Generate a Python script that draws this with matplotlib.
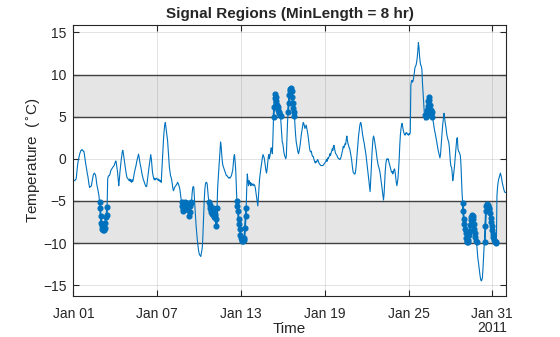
import numpy as np
import pandas as pd
import matplotlib
matplotlib.use('Agg')
import matplotlib.pyplot as plt
import matplotlib.dates as mdates

plt.rcParams['font.family'] = ['Liberation Sans', 'DejaVu Sans']

# hourly temperature readings (deg C), one list per day of January 2011
jan01 = [-2.6, -2.6, -2.6, -2.5, -2.5, -2.3, -1.6, -0.9, -0.4, 0.0, 0.3, 0.6, 0.8, 1.0, 1.0, 1.1, 1.0, 0.9, 0.9, 0.5, 0.0, -0.5, -0.9, -1.3]
jan02 = [-1.8, -2.1, -2.6, -3.1, -3.4, -3.3, -3.3, -3.2, -2.8, -2.4, -2.0, -1.8, -1.7, -1.8, -1.9, -2.3, -2.9, -3.3, -3.6, -4.0, -4.4, -5.1, -5.9, -6.8]
jan03 = [-7.6, -8.0, -8.3, -8.4, -8.4, -8.3, -8.2, -7.6, -6.9, -6.7, -5.7, -2.4, -2.1, -2.0, -2.0, -1.8, -1.5, -1.3, -1.2, -1.1, -1.0, -0.9, -0.8, -0.6]
jan04 = [-0.4, -0.25, -0.6, -1.1, -1.6, -2.4, -3.2, -2.5, -1.6, -0.9, -0.3, 0.3, 0.8, 1.0, 0.6, 0.1, -0.4, -0.9, -1.4, -1.8, -2.2, -2.3, -2.4, -2.5]
jan05 = [-2.6, -2.4, -2.7, -2.5, -2.8, -2.5, -2.7, -2.4, -2.0, -1.6, -1.3, -1.0, -0.7, -0.3, 0.0, 0.3, 0.55, 0.2, -0.3, -0.7, -1.0, -1.4, -1.8, -2.1]
jan06 = [-2.4, -2.6, -2.8, -3.0, -3.2, -3.3, -3.3, -2.7, -2.1, -1.6, -1.0, -0.5, 0.0, 0.5, 0.0, -0.8, -1.6, -2.0, -2.3, -2.5, -2.3, -2.5, -2.4, -2.3]
jan07 = [-2.4, -2.5, -2.4, -2.6, -2.5, -2.7, -2.6, -2.8, -1.5, 0.0, 1.3, 2.4, 3.3, 4.0, 4.3, 3.8, 3.2, 2.7, 2.1, 1.0, 0.0, -1.0, -1.5, -2.0]
jan08 = [-2.2, -2.5, -3.0, -3.5, -3.8, -3.6, -3.4, -3.3, -3.2, -3.1, -3.0, -2.8, -2.9, -3.1, -3.3, -3.6, -4.2, -4.7, -5.1, -5.6, -6.0, -6.2, -6.0, -5.5]
jan09 = [-5.1, -5.3, -5.8, -5.2, -5.6, -6.1, -5.4, -6.8, -6.3, -5.6, -5.1, -5.2, -4.2, -3.5, -3.3, -3.4, -4.5, -5.8, -7.0, -8.0, -8.8, -9.6, -10.2, -10.8]
jan10 = [-11.2, -11.4, -11.5, -11.6, -11.2, -10.8, -10.2, -8.4, -6.5, -4.8, -3.6, -3.0, -2.8, -2.8, -3.0, -3.8, -4.6, -5.1, -5.5, -5.8, -6.1, -6.3, -6.5, -6.2]
jan11 = [-5.8, -6.3, -6.9, -6.6, -6.8, -7.2, -8.0, -5.8, -3.4, -2.2, -1.2, -0.2, 1.0, 2.0, 1.5, 0.5, -0.3, -0.8, -1.0, -1.2, -1.4, -1.6, -1.8, -2.0]
jan12 = [-2.0, -2.1, -2.2, -2.3, -2.2, -2.3, -2.2, -2.1, -1.9, -1.6, -1.3, -0.5, 0.3, 0.5, -0.3, -1.3, -3.0, -5.0, -5.6, -6.2, -7.2, -7.7, -8.3, -9.0]
jan13 = [-9.4, -9.6, -9.7, -9.6, -9.7, -9.6, -9.4, -8.2, -6.8, -5.8, -3.5, -1.8, -2.6, -3.2, -2.6, -3.0, -2.8, -3.2, -2.9, -3.1, -3.0, -3.2, -3.0, -3.1]
jan14 = [-3.2, -3.6, -4.1, -4.6, -5.1, -5.6, -4.6, -3.4, -2.4, -1.8, -1.3, -0.8, -0.3, 0.2, 0.5, 0.3, 0.1, -0.4, -0.9, -1.4, -1.7, -1.2, -0.5, 0.2]
jan15 = [0.5, 0.0, 0.4, 0.9, 1.3, 1.0, 0.6, 2.5, 5.0, 6.2, 7.2, 7.7, 7.3, 6.8, 6.4, 6.1, 5.8, 5.6, 5.4, 5.2, 5.1, 4.0, 3.0, 2.0]
jan16 = [1.8, 1.2, 0.7, 0.4, 0.2, 0.0, 0.3, 2.2, 4.2, 5.6, 6.6, 7.6, 8.1, 8.3, 8.4, 8.0, 7.3, 6.6, 6.0, 5.5, 5.1, 3.8, 2.8, 2.0]
jan17 = [1.6, 1.2, 0.8, 0.6, 0.9, 1.3, 1.8, 2.4, 3.0, 3.4, 3.9, 4.3, 4.2, 3.9, 3.6, 3.8, 4.0, 3.7, 3.3, 2.9, 2.4, 1.8, 1.2, 0.9]
jan18 = [0.8, 0.9, 0.5, 0.3, 0.3, 0.1, -0.2, -0.4, -0.5, -0.3, -0.4, -0.2, -0.1, -0.3, -0.5, -0.6, -0.7, -0.8, -0.8, -0.8, -0.8, -0.8, -0.7, -0.6]
jan19 = [-0.5, -0.4, -0.3, -0.1, -0.3, 0.1, 0.0, 0.2, 0.3, 0.6, 0.4, 0.7, 0.9, 1.2, 1.0, 1.5, 1.6, 1.2, 0.8, 0.6, 0.5, 0.4, 0.2, 0.1]
jan20 = [0.0, 0.0, -0.1, 0.0, 0.2, 0.5, 0.8, 1.1, 1.5, 1.3, 1.5, 1.8, 1.7, 2.3, 2.7, 2.2, 1.8, 1.6, 1.3, 1.2, 0.8, 0.4, 0.0, -0.6]
jan21 = [-1.2, -1.6, -1.7, -1.8, -1.8, -1.5, -0.9, 0.0, 0.9, 1.8, 2.6, 3.2, 3.8, 4.2, 4.3, 4.0, 3.4, 2.9, 2.5, 2.1, 1.8, 1.3, 0.9, 0.4]
jan22 = [-0.2, -0.8, -1.3, -1.9, -2.5, -3.2, -3.9, -2.6, -1.2, 0.3, 1.5, 2.4, 2.7, 2.4, 2.0, 1.5, 1.1, 0.5, 0.0, -0.4, -0.8, -1.0, -1.3, -1.6]
jan23 = [-2.2, -2.7, -3.2, -3.8, -4.4, -4.9, -4.2, -2.9, -1.5, -0.6, -0.2, 0.0, -0.1, 0.0, -0.3, -0.6, -0.8, -1.1, -1.4, -1.6, -1.5, -1.8, -1.6, -1.3]
jan24 = [-1.2, -1.6, -2.2, -2.8, -3.2, -2.8, -2.2, -1.2, 0.0, 1.6, 2.8, 3.5, 4.0, 4.2, 3.8, 3.4, 3.1, 2.9, 2.8, 3.0, 3.1, 3.1, 2.9, 2.9]
jan25 = [2.8, 3.0, 2.9, 3.1, 8.7, 9.2, 9.3, 9.1, 9.3, 9.7, 10.2, 10.8, 11.0, 11.1, 11.5, 12.0, 12.8, 13.8, 13.2, 12.2, 11.5, 11.1, 11.0, 10.6]
jan26 = [9.0, 7.8, 6.6, 5.6, 4.6, 5.2, 5.0, 5.8, 5.4, 6.3, 6.9, 7.3, 7.0, 6.4, 5.8, 5.3, 5.6, 5.0, 4.6, 4.2, 3.7, 3.3, 3.0, 2.6]
jan27 = [2.2, 1.8, 1.4, 1.0, 0.7, 0.4, 0.1, 0.5, 1.5, 2.6, 3.4, 4.2, 4.8, 5.4, 4.9, 4.3, 3.9, 3.3, 2.8, 2.5, 2.2, 2.0, 1.5, 0.5]
jan28 = [-0.4, -0.9, -1.0, -1.6, -2.6, -2.2, -1.6, -0.9, 0.0, 0.8, 1.6, 2.4, 2.5, 1.2, 0.9, 0.8, 0.6, 0.4, -0.5, -2.4, -4.0, -5.2, -6.2, -7.2]
jan29 = [-7.8, -8.3, -8.8, -9.4, -9.8, -9.9, -9.9, -9.6, -9.1, -8.6, -7.9, -7.3, -6.9, -6.7, -6.8, -7.1, -7.7, -8.3, -8.8, -9.3, -9.7, -9.9, -10.8, -11.7]
jan30 = [-12.2, -12.8, -13.4, -13.9, -14.3, -14.5, -14.4, -14.1, -13.0, -11.6, -10.3, -9.9, -8.0, -6.2, -5.6, -5.4, -5.5, -5.6, -5.8, -6.0, -6.4, -7.0, -7.5, -8.0]
jan31 = [-8.5, -8.9, -9.3, -9.6, -9.8, -9.9, -9.9, -10.0, -4.4, -3.4, -2.8, -2.4, -2.2, -1.9, -1.7, -2.0, -2.3, -2.8, -3.1, -3.4, -3.7, -3.9, -4.0, -4.0]

upper_band = [5, 10]
lower_band = [-10, -5]
min_length = 8  # hours
tick_dates = ['2011-01-01', '2011-01-07', '2011-01-13', '2011-01-19', '2011-01-25', '2011-01-31']

days = [jan01, jan02, jan03, jan04, jan05, jan06, jan07, jan08, jan09, jan10,
        jan11, jan12, jan13, jan14, jan15, jan16, jan17, jan18, jan19, jan20,
        jan21, jan22, jan23, jan24, jan25, jan26, jan27, jan28, jan29, jan30, jan31]
temp = np.array([v for d in days for v in d])
time = pd.date_range('2011-01-01', periods=len(temp), freq='h')

# points inside either band, kept only where the run lasts min_length hours
inband = ((temp >= upper_band[0]) & (temp <= upper_band[1])) | \
         ((temp >= lower_band[0]) & (temp <= lower_band[1]))
mask = np.zeros(len(temp), dtype=bool)
i = 0
while i < len(temp):
    if inband[i]:
        j = i
        while j < len(temp) and inband[j]:
            j += 1
        if j - i >= min_length:
            mask[i:j] = True
        i = j
    else:
        i += 1
signal = np.where(mask, temp, np.nan)

fig = plt.figure(figsize=(5.6, 3.37), dpi=100)
ax = fig.add_axes([0.131, 0.1226, 0.772, 0.8025])

for lo, hi in (upper_band, lower_band):
    ax.axhspan(lo, hi, facecolor='#e5e5e5', edgecolor='none', zorder=0.2)
    ax.axhline(lo, color='#404040', lw=1.0, zorder=0.6)
    ax.axhline(hi, color='#404040', lw=1.0, zorder=0.6)

ax.grid(True, color='#262626', alpha=0.15, lw=0.6)
ax.set_axisbelow(True)

ax.plot(time, temp, color='#0072BD', lw=0.8, zorder=2)
ax.plot(time, signal, color='#0072BD', lw=1.3, marker='o', ms=3.4, zorder=3)

ax.set_xlim(time[0], time[-1])
ax.set_ylim(-16.25, 15.85)
ax.set_yticks([-15, -10, -5, 0, 5, 10, 15])
ax.set_xticks(pd.to_datetime(tick_dates))
ax.xaxis.set_major_formatter(mdates.DateFormatter('%b %d'))

ax.tick_params(axis='both', direction='in', top=True, right=True, length=4, width=0.8,
               labelsize=10, colors='#262626')
ax.tick_params(axis='x', pad=8)
ax.tick_params(axis='y', pad=5)
for s in ax.spines.values():
    s.set_color('#262626')
    s.set_linewidth(0.8)

ax.set_title('Signal Regions (MinLength = 8 hr)', fontsize=11, fontweight='bold',
             color='#262626', pad=5)
ax.set_xlabel('Time', fontsize=11, color='#262626', labelpad=1)
ax.set_ylabel(r'Temperature  ($^{\circ}$C)', fontsize=11, color='#262626', labelpad=0)
ax.annotate('2011', xy=(pd.Timestamp(tick_dates[-1]), 0),
            xycoords=('data', 'axes fraction'), xytext=(0, -18),
            textcoords='offset points', ha='center', va='top',
            fontsize=10, color='#262626')

fig.savefig('out.png', dpi=100)
